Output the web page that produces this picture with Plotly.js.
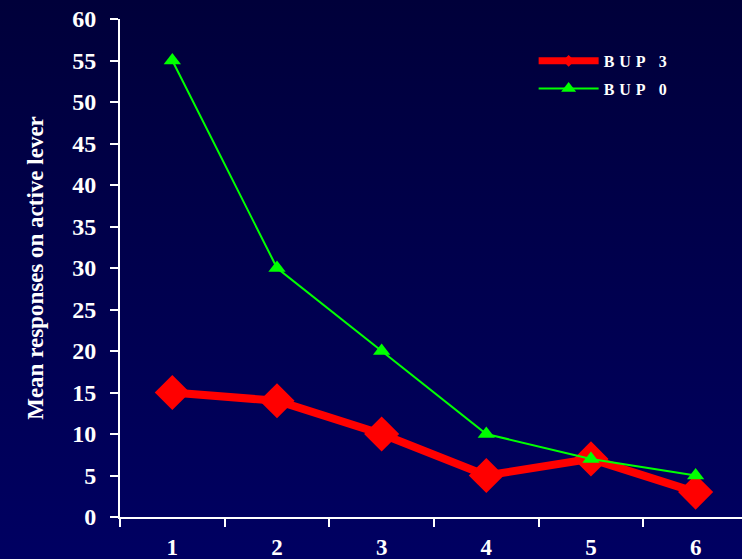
<!DOCTYPE html>
<html>
<head>
<meta charset="utf-8">
<script src="https://cdn.plot.ly/plotly-3.0.1.min.js"></script>
<style>
html, body { margin:0; padding:0; width:742px; height:559px; overflow:hidden;
  background: linear-gradient(to bottom, #00003a 0%, #00004e 50%, #000062 100%); }
#chart { width:742px; height:559px; }
.legendtext { letter-spacing: 5px; }
</style>
</head>
<body>
<div id="chart"></div>
<script>
var sessions = ["1", "2", "3", "4", "5", "6"];
var bup3 = [15, 14, 10, 5, 7, 3];
var bup0 = [55, 30, 20, 10, 7, 5];
var seriesNames = ["BUP 3", "BUP 0"];
var yTicks = [0, 5, 10, 15, 20, 25, 30, 35, 40, 45, 50, 55, 60];

var traces = [
  {
    x: sessions, y: bup3, name: seriesNames[0], type: "scatter", mode: "lines+markers",
    showlegend: false,
    line: { color: "#ff0000", width: 8 },
    marker: { symbol: "diamond", size: 27, color: "#ff0000" }
  },
  {
    x: sessions, y: bup0, name: seriesNames[1], type: "scatter", mode: "lines+markers",
    showlegend: false,
    line: { color: "#00ff00", width: 2 },
    marker: { symbol: "triangle-up", size: 15, color: "#00ff00" }
  },
  // legend entries (no data drawn)
  {
    x: [null], y: [null], name: seriesNames[0], type: "scatter", mode: "lines+markers",
    legendgroup: "a",
    line: { color: "#ff0000", width: 7 },
    marker: { symbol: "diamond", size: 9, color: "#ff0000" }
  },
  {
    x: [null], y: [null], name: seriesNames[1], type: "scatter", mode: "lines+markers",
    legendgroup: "b",
    line: { color: "#00ff00", width: 2 },
    marker: { symbol: "triangle-up", size: 13, color: "#00ff00" }
  }
];

var layout = {
  width: 742, height: 559,
  paper_bgcolor: "rgba(0,0,0,0)",
  plot_bgcolor: "rgba(0,0,0,0)",
  margin: { l: 120, r: 0, t: 19, b: 42, pad: 0 },
  font: { family: "Liberation Serif, Times New Roman, serif", color: "#ffffff" },
  showlegend: true,
  legend: {
    x: 0.665, y: 0.95, xanchor: "left", yanchor: "top",
    bgcolor: "rgba(0,0,0,0)",
    font: { family: "Liberation Serif, serif", size: 16, color: "#ffffff", weight: "bold" },
    tracegroupgap: 4, itemwidth: 60
  },
  xaxis: {
    type: "category",
    range: [-0.5, 5.443],
    showline: true, linecolor: "#ffffff", linewidth: 2,
    ticks: "outside", tickson: "boundaries", ticklen: 8, tickwidth: 2, tickcolor: "#ffffff",
    showgrid: false, zeroline: false,
    tickfont: { family: "Liberation Serif, serif", size: 23, color: "#ffffff", weight: "bold" },
    ticklabelstandoff: 8
  },
  yaxis: {
    range: [0, 60],
    tickvals: yTicks,
    showline: true, linecolor: "#ffffff", linewidth: 2,
    ticks: "outside", ticklen: 8, tickwidth: 2, tickcolor: "#ffffff",
    showgrid: false, zeroline: false,
    tickfont: { family: "Liberation Serif, serif", size: 24, color: "#ffffff", weight: "bold" },
    ticklabelstandoff: 9,
    title: {
      text: "Mean responses on active lever",
      font: { family: "Liberation Serif, serif", size: 23, color: "#ffffff", weight: "bold" },
      standoff: 22
    }
  }
};

Plotly.newPlot("chart", traces, layout, { displayModeBar: false, staticPlot: true });
</script>
</body>
</html>
